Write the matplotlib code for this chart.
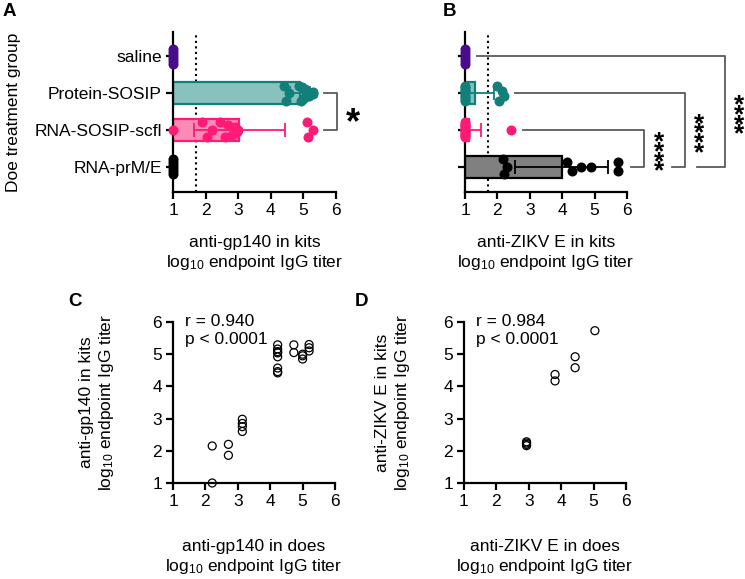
import numpy as np
import matplotlib.pyplot as plt

plt.rcParams['font.family'] = ['Liberation Sans', 'DejaVu Sans']
plt.rcParams['mathtext.fontset'] = 'custom'
plt.rcParams['mathtext.rm'] = 'Liberation Sans'
plt.rcParams['mathtext.it'] = 'Liberation Sans:italic'
plt.rcParams['font.size'] = 12.5

# groups and colours
groups = ['saline', 'Protein-SOSIP', 'RNA-SOSIP-scfl', 'RNA-prM/E']
edge_colors = ['#4b0c8c', '#137f79', '#ff1a75', '#000000']
fill_A = ['#4b0c8c', '#88c1be', '#fb8bb6', '#000000']
fill_B = ['#4b0c8c', '#88c1be', '#fb8bb6', '#808080']

# panel A: anti-gp140 in kits (log10 titer)
gp140_kits = [
    [1, 1, 1, 1, 1, 1],
    [4.42, 4.46, 4.57, 4.92, 5.04, 5.08, 5.16, 5.29, 5.05, 5.29, 4.85, 4.95, 5.0],
    [1.0, 1.88, 2.05, 2.2, 2.45, 2.6, 2.7, 2.8, 2.9, 2.95, 3.0, 5.1, 5.15, 5.3],
    [1, 1, 1, 1, 1, 1],
]
gp140_mean = [1.0, 4.9, 3.03, 1.0]
gp140_sd = [0, 0.3, 1.4, 0]

# panel B: anti-ZIKV E in kits
zikv_kits = [
    [1, 1, 1, 1, 1, 1],
    [1] * 10 + [2.0, 2.05, 2.15, 2.2],
    [1] * 13 + [2.42],
    [2.21, 2.29, 2.18, 4.14, 4.31, 4.58, 4.89, 5.73, 5.73],
]
zikv_mean = [1.0, 1.31, 1.12, 3.98]
zikv_sd = [0, 0.6, 0.37, 1.44]
lod = 1.7

# panel C: does vs kits, anti-gp140
gp140_does_x = [4.23, 4.23, 4.23, 4.23, 4.23, 4.23, 4.23, 4.23, 4.73, 4.73,
                5.0, 5.0, 5.0, 5.2, 5.2, 5.2, 3.14, 3.14, 3.14, 3.14,
                2.71, 2.71, 2.21, 2.21]
gp140_kits_y = [5.29, 5.16, 5.08, 5.04, 4.92, 4.57, 4.46, 4.42, 5.29, 5.05,
                5.0, 4.95, 4.85, 5.3, 5.2, 5.1, 2.98, 2.85, 2.75, 2.6,
                2.2, 1.86, 2.15, 1.0]

# panel D: does vs kits, anti-ZIKV E
zikv_does_x = [2.93, 2.93, 2.93, 2.93, 3.81, 3.81, 4.43, 4.43, 5.04]
zikv_kits_y = [2.28, 2.24, 2.2, 2.16, 4.37, 4.17, 4.92, 4.58, 5.73]

W, H = 745, 579
fig = plt.figure(figsize=(W / 100, H / 100), dpi=100)


def add_ax(x0, y0, x1, y1):
    return fig.add_axes([x0 / W, 1 - y1 / H, (x1 - x0) / W, (y1 - y0) / H])


def style(ax):
    for s in ['top', 'right']:
        ax.spines[s].set_visible(False)
    for s in ['left', 'bottom']:
        ax.spines[s].set_linewidth(1.6)
    ax.tick_params(width=1.6, length=5, labelsize=12.5, pad=3)


def swarm(vals, px_x=32.6, px_y=37.0, gap=6.0):
    # spread near-equal values vertically, GraphPad style
    vals = np.asarray(vals, float)
    order = np.argsort(vals)
    off = np.zeros(len(vals))
    clusters, cur = [], [order[0]]
    for a, b in zip(order[:-1], order[1:]):
        if (vals[b] - vals[a]) * px_x < gap:
            cur.append(b)
        else:
            clusters.append(cur)
            cur = [b]
    clusters.append(cur)
    for c in clusters:
        k = len(c)
        if k == 1:
            continue
        s = min(7.5, 4.5 * (k - 1))
        pos = np.linspace(-s, s, k)
        zig = []
        lo, hi = 0, k - 1
        while lo <= hi:
            zig.append(pos[lo])
            if hi != lo:
                zig.append(pos[hi])
            lo += 1
            hi -= 1
        for idx, o in zip(c, zig):
            off[idx] = o / px_y
    return off


def bar_panel(ax, data, means, sds, fills):
    ypos = np.arange(len(groups))
    for i in ypos:
        if means[i] > 1:
            ax.barh(i, means[i] - 1, left=1, height=0.62, color=fills[i],
                    edgecolor=edge_colors[i], linewidth=1.6, zorder=2)
        if sds[i] > 0:
            ax.errorbar(means[i], i, xerr=sds[i], color=edge_colors[i],
                        capsize=5, capthick=1.3, elinewidth=1.3, zorder=3)
        ax.scatter(data[i], i + swarm(data[i]), s=52, color=edge_colors[i],
                   linewidths=0, zorder=4, clip_on=False)
    ax.axvline(lod, ls=':', color='k', lw=1.5, zorder=1)
    ax.set_xlim(1, 6)
    ax.set_ylim(3.676, -0.649)
    ax.set_xticks(range(1, 7))
    ax.set_yticks(ypos)
    style(ax)


axA = add_ax(173, 32, 336, 192)
axB = add_ax(465, 32, 627, 192)
axC = add_ax(173, 322, 335, 483)
axD = add_ax(464, 322, 626, 483)

bar_panel(axA, gp140_kits, gp140_mean, gp140_sd, fill_A)
axA.set_yticklabels(groups)
axA.set_ylabel('Doe treatment group')
axA.yaxis.set_label_coords(-0.93, 0.5)
axA.set_xlabel('anti-gp140 in kits\nlog$_{10}$ endpoint IgG titer')
axA.xaxis.set_label_coords(0.5, -0.27)

bar_panel(axB, zikv_kits, zikv_mean, zikv_sd, fill_B)
axB.set_yticklabels([])
axB.set_xlabel('anti-ZIKV E in kits\nlog$_{10}$ endpoint IgG titer')
axB.xaxis.set_label_coords(0.5, -0.27)

# significance brackets
br = dict(color='#5a5a5a', lw=1.3, clip_on=False)
axA.plot([5.63, 6.03, 6.03, 5.63], [1, 1, 2, 2], **br)
axA.text(6.52, 1.84, '*', fontsize=26, fontweight='bold', ha='center',
         va='center', clip_on=False)

for x0, xr, x1, y0, xs in [(1.37, 9.02, 8.16, 0, 9.46),
                           (2.54, 7.79, 7.39, 1, 8.22),
                           (2.79, 6.52, 6.12, 2, 6.99)]:
    axB.plot([x0, xr, xr, x1], [y0, y0, 3, 3], **br)
    axB.text(xs, (y0 + 3) / 2 + 0.23, '*\n*\n*\n*', fontsize=19,
             fontweight='bold', linespacing=0.25, ha='center', va='center',
             clip_on=False)


def scatter_panel(ax, x, y, xlabel, ylabel, r):
    ax.scatter(x, y, s=33, facecolors='none', edgecolors='k', linewidths=0.9,
               clip_on=False, zorder=3)
    ax.set_xlim(1, 6)
    ax.set_ylim(1, 6)
    ax.set_xticks(range(1, 7))
    ax.set_yticks(range(1, 7))
    style(ax)
    ax.set_xlabel(xlabel)
    ax.xaxis.set_label_coords(0.5, -0.35)
    ax.set_ylabel(ylabel)
    ax.text(0.075, 1.05, 'r = %s\np < 0.0001' % r, transform=ax.transAxes,
            ha='left', va='top', linespacing=1.25)


scatter_panel(axC, gp140_does_x, gp140_kits_y,
              'anti-gp140 in does\nlog$_{10}$ endpoint IgG titer',
              'anti-gp140 in kits\nlog$_{10}$ endpoint IgG titer', '0.940')
axC.yaxis.set_label_coords(-0.35, 0.5)
scatter_panel(axD, zikv_does_x, zikv_kits_y,
              'anti-ZIKV E in does\nlog$_{10}$ endpoint IgG titer',
              'anti-ZIKV E in kits\nlog$_{10}$ endpoint IgG titer', '0.984')
axD.yaxis.set_label_coords(-0.32, 0.5)

for lab, (px, py) in zip('ABCD', [(9, 12), (449, 12), (75, 302), (361, 302)]):
    fig.text(px / W, 1 - py / H, lab, fontsize=13.5, fontweight='bold',
             ha='center', va='center')

fig.savefig('out.png', dpi=100)
